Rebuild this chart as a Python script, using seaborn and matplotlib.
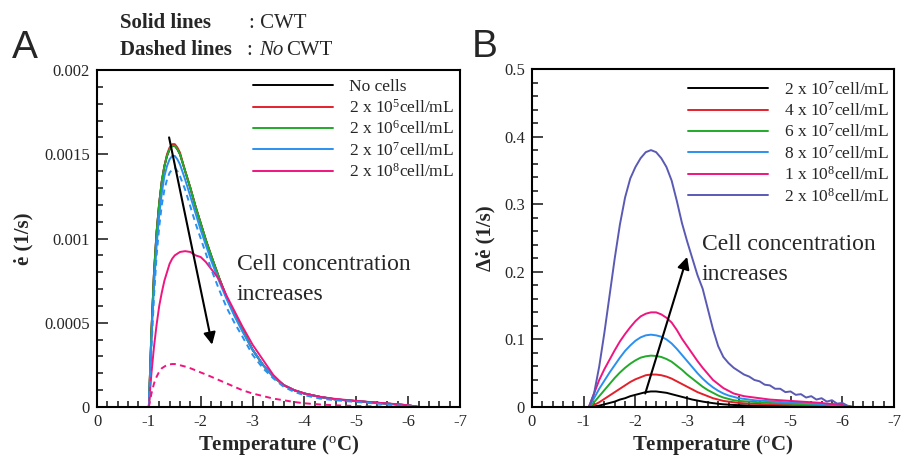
import numpy as np
import pandas as pd
import matplotlib
matplotlib.use("Agg")
import matplotlib.pyplot as plt
from matplotlib.ticker import FixedLocator, MultipleLocator, FuncFormatter
import seaborn as sns

# ====== data ======
# panel A: strain rate vs temperature
temp_a = [-1.0, -1.05, -1.1, -1.15, -1.2, -1.25, -1.3, -1.35, -1.4, -1.45,
          -1.5, -1.55, -1.6, -1.7, -1.8, -1.9, -2.0, -2.1, -2.2, -2.35,
          -2.5, -2.65, -2.8, -3.0, -3.2, -3.4, -3.6, -3.8, -4.0, -4.3,
          -4.6, -5.0, -5.4, -5.8, -6.0, -6.2]

no_cells = [0, 0.00045, 0.0008, 0.00104, 0.00121, 0.00134, 0.00143, 0.00149, 0.00153, 0.00155,
            0.00155, 0.00153, 0.0015, 0.0014, 0.0013, 0.00119, 0.00109, 0.00099, 0.0009, 0.00077,
            0.00065, 0.00055, 0.00046, 0.00034, 0.00025, 0.00018, 0.00013, 0.0001, 0.00008, 0.00006,
            0.000045, 0.000035, 0.000025, 0.000015, 0.00001, 0]
c_2e5 = [0, 0.00045, 0.0008, 0.00104, 0.00121, 0.00134, 0.00143, 0.0015, 0.00154, 0.00156,
         0.00156, 0.00154, 0.00151, 0.0014, 0.0013, 0.00119, 0.00109, 0.00099, 0.0009, 0.00077,
         0.00065, 0.00055, 0.00046, 0.00034, 0.00025, 0.00018, 0.00013, 0.0001, 0.00008, 0.00006,
         0.000045, 0.000035, 0.000025, 0.000015, 0.00001, 0]
c_2e6 = [0, 0.00045, 0.0008, 0.00104, 0.00121, 0.00134, 0.00143, 0.00149, 0.00153, 0.00155,
         0.00155, 0.00153, 0.0015, 0.0014, 0.0013, 0.00119, 0.00109, 0.00099, 0.0009, 0.00077,
         0.00065, 0.00055, 0.00046, 0.00034, 0.00025, 0.00018, 0.00013, 0.0001, 0.00008, 0.00006,
         0.000045, 0.000035, 0.000025, 0.000015, 0.00001, 0]
c_2e7 = [0, 0.0004, 0.00072, 0.00096, 0.00114, 0.00127, 0.00137, 0.00143, 0.00147, 0.00149,
         0.00149, 0.00147, 0.00144, 0.00135, 0.00125, 0.00115, 0.00105, 0.00096, 0.00087, 0.00075,
         0.00064, 0.00054, 0.00045, 0.00034, 0.00025, 0.00018, 0.00013, 0.0001, 0.00008, 0.00006,
         0.000045, 0.000035, 0.000025, 0.000015, 0.00001, 0]
c_2e8 = [0, 0.0002, 0.00036, 0.00049, 0.0006, 0.00068, 0.00075, 0.0008, 0.00085, 0.00088,
         0.0009, 0.00091, 0.00092, 0.000925, 0.00092, 0.0009, 0.00089, 0.00086, 0.00082, 0.00076,
         0.00066, 0.00057, 0.00048, 0.00037, 0.00028, 0.00019, 0.00013, 0.0001, 0.00008, 0.00006,
         0.000048, 0.000036, 0.000026, 0.000016, 0.00001, 0]
# dashed (no CWT)
c_2e7_nocwt = [0, 0.00035, 0.00066, 0.0009, 0.00107, 0.0012, 0.00129, 0.00135, 0.00139, 0.00141,
               0.00142, 0.0014, 0.00137, 0.00129, 0.00119, 0.00109, 0.001, 0.00091, 0.00082, 0.0007,
               0.00059, 0.0005, 0.00042, 0.00031, 0.00023, 0.00017, 0.00012, 0.00009, 0.00007, 0.00005,
               0.00004, 0.00003, 0.00002, 0.00001, 0.000005, 0]
c_2e8_nocwt = [0, 0.00008, 0.00014, 0.00018, 0.00021, 0.00023, 0.00024, 0.00025, 0.000253, 0.000255,
               0.000255, 0.000252, 0.000248, 0.00024, 0.00023, 0.000218, 0.000205, 0.000193, 0.00018, 0.00016,
               0.00014, 0.00012, 0.0001, 0.00008, 0.000065, 0.00005, 0.00004, 0.00003, 0.000022, 0.000015,
               0.00001, 0.000006, 0.000003, 0.000001, 0, 0]

labels_a = ["No cells", "2 x 10$^{5}$cell/mL", "2 x 10$^{6}$cell/mL",
            "2 x 10$^{7}$cell/mL", "2 x 10$^{8}$cell/mL"]
colors_a = ["#000000", "#e3202a", "#22aa2a", "#2a90f0", "#f0147f"]

# panel B: difference in strain rate
temp_b = [-1.1, -1.2, -1.3, -1.4, -1.5, -1.6, -1.7, -1.8, -1.9, -2.0,
          -2.1, -2.2, -2.3, -2.4, -2.5, -2.6, -2.7, -2.8, -2.9, -3.0,
          -3.1, -3.2, -3.3, -3.4, -3.5, -3.6, -3.7, -3.8, -3.9, -4.0,
          -4.1, -4.2, -4.3, -4.4, -4.5, -4.6, -4.7, -4.8, -4.9, -5.0,
          -5.1, -5.2, -5.3, -5.4, -5.5, -5.6, -5.7, -5.8, -5.9, -6.0,
          -6.1, -6.2]

d_2e7 = [0.0, 0.001, 0.002, 0.004, 0.006, 0.008, 0.011, 0.013, 0.016, 0.018,
         0.02, 0.022, 0.023, 0.023, 0.022, 0.021, 0.019, 0.017, 0.015, 0.013,
         0.011, 0.0095, 0.008, 0.0068, 0.0057, 0.0048, 0.004, 0.0035, 0.003, 0.0027,
         0.0025, 0.0023, 0.0021, 0.002, 0.0019, 0.0018, 0.0017, 0.0016, 0.0015, 0.0014,
         0.0013, 0.0012, 0.0011, 0.001, 0.0009, 0.0008, 0.0007, 0.0006, 0.0005, 0.0004,
         0.0002, 0.0]
d_4e7 = [0.0, 0.003, 0.007, 0.012, 0.017, 0.022, 0.027, 0.032, 0.037, 0.041,
         0.044, 0.047, 0.048, 0.048, 0.047, 0.045, 0.042, 0.038, 0.034, 0.03,
         0.026, 0.022, 0.019, 0.016, 0.013, 0.011, 0.009, 0.008, 0.007, 0.006,
         0.0055, 0.005, 0.0047, 0.0044, 0.0041, 0.0038, 0.0036, 0.0034, 0.0032, 0.003,
         0.0028, 0.0026, 0.0024, 0.0022, 0.002, 0.0018, 0.0016, 0.0014, 0.0012, 0.0009,
         0.0005, 0.0]
d_6e7 = [0.0, 0.007, 0.016, 0.025, 0.034, 0.043, 0.051, 0.058, 0.064, 0.069,
         0.073, 0.075, 0.076, 0.0755, 0.074, 0.071, 0.067, 0.061, 0.055, 0.048,
         0.042, 0.036, 0.03, 0.025, 0.021, 0.017, 0.014, 0.012, 0.01, 0.009,
         0.0085, 0.008, 0.0075, 0.007, 0.0065, 0.006, 0.0058, 0.0055, 0.0052, 0.005,
         0.0047, 0.0044, 0.004, 0.0037, 0.0034, 0.003, 0.0027, 0.0023, 0.002, 0.0015,
         0.0008, 0.0]
d_8e7 = [0.0, 0.013, 0.027, 0.039, 0.051, 0.062, 0.073, 0.083, 0.091, 0.098,
         0.103, 0.106, 0.107, 0.106, 0.104, 0.1, 0.094, 0.086, 0.077, 0.068,
         0.059, 0.05, 0.042, 0.035, 0.029, 0.024, 0.02, 0.017, 0.015, 0.013,
         0.012, 0.011, 0.01, 0.0095, 0.009, 0.0085, 0.008, 0.0075, 0.007, 0.0068,
         0.0065, 0.006, 0.0056, 0.0052, 0.0048, 0.0044, 0.004, 0.0035, 0.003, 0.002,
         0.001, 0.0]
d_1e8 = [0.0, 0.02, 0.04, 0.056, 0.07, 0.084, 0.097, 0.108, 0.118, 0.127,
         0.134, 0.138, 0.14, 0.14, 0.137, 0.132, 0.125, 0.114, 0.101, 0.09,
         0.079, 0.068, 0.058, 0.049, 0.04, 0.034, 0.028, 0.024, 0.02, 0.018,
         0.016, 0.015, 0.014, 0.013, 0.012, 0.011, 0.0105, 0.01, 0.0095, 0.009,
         0.0085, 0.008, 0.0075, 0.007, 0.0065, 0.006, 0.005, 0.0045, 0.004, 0.003,
         0.0015, 0.0]
d_2e8 = [0.0, 0.02, 0.06, 0.11, 0.165, 0.22, 0.27, 0.31, 0.338, 0.355,
         0.368, 0.377, 0.38, 0.377, 0.368, 0.355, 0.335, 0.305, 0.272, 0.245,
         0.22, 0.195, 0.175, 0.145, 0.115, 0.09, 0.074, 0.065, 0.058, 0.053,
         0.048, 0.045, 0.04, 0.038, 0.033, 0.032, 0.027, 0.027, 0.022, 0.023,
         0.018, 0.019, 0.014, 0.016, 0.011, 0.013, 0.008, 0.01, 0.005, 0.006,
         0.002, 0.0]

labels_b = ["2 x 10$^{7}$cell/mL", "4 x 10$^{7}$cell/mL", "6 x 10$^{7}$cell/mL",
            "8 x 10$^{7}$cell/mL", "1 x 10$^{8}$cell/mL", "2 x 10$^{8}$cell/mL"]
colors_b = ["#000000", "#e3202a", "#22aa2a", "#2a90f0", "#f0147f", "#5a5ab4"]

# ====== style ======
sns.set_style("ticks")
plt.rcParams["font.family"] = ["Liberation Serif", "DejaVu Serif"]
plt.rcParams["mathtext.fontset"] = "custom"
plt.rcParams["mathtext.rm"] = "Liberation Serif"
plt.rcParams["mathtext.it"] = "Liberation Serif:italic"
plt.rcParams["mathtext.bf"] = "Liberation Serif:bold"
plt.rcParams["axes.unicode_minus"] = False

fig = plt.figure(figsize=(9.01, 4.55), dpi=100)
W, H = 901, 455


def px_axes(x0, y0, x1, y1):
    return fig.add_axes([x0 / W, 1 - y1 / H, (x1 - x0) / W, (y1 - y0) / H])


ax_a = px_axes(97, 70, 460, 407)
ax_b = px_axes(532, 69, 894, 407)

lw = 1.4
# ---- panel A ----
for vals, lab, col in zip([no_cells, c_2e5, c_2e6, c_2e7, c_2e8], labels_a, colors_a):
    sns.lineplot(x=temp_a, y=vals, color=col, lw=lw, label=lab, ax=ax_a, sort=False)
sns.lineplot(x=temp_a, y=c_2e7_nocwt, color=colors_a[3], lw=lw, ax=ax_a, sort=False,
             linestyle=(0, (3, 2.2)))
sns.lineplot(x=temp_a, y=c_2e8_nocwt, color=colors_a[4], lw=lw, ax=ax_a, sort=False,
             linestyle=(0, (3, 2.2)))
ax_a.set_ylim(0, 0.002)
ax_a.yaxis.set_major_locator(FixedLocator([0, 0.0005, 0.001, 0.0015, 0.002]))
ax_a.yaxis.set_minor_locator(MultipleLocator(0.0001))
ax_a.set_ylabel("ė (1/s)", fontsize=15, fontweight="bold", labelpad=8)

# ---- panel B ----
for vals, lab, col in zip([d_2e7, d_4e7, d_6e7, d_8e7, d_1e8, d_2e8], labels_b, colors_b):
    sns.lineplot(x=temp_b, y=vals, color=col, lw=lw, label=lab, ax=ax_b, sort=False)
ax_b.set_ylim(0, 0.5)
ax_b.yaxis.set_major_locator(MultipleLocator(0.1))
ax_b.yaxis.set_minor_locator(MultipleLocator(0.02))
ax_b.set_ylabel("Δė (1/s)", fontsize=15, fontweight="bold", labelpad=6)

fmt = FuncFormatter(lambda v, p: f"{v:g}")
for ax in (ax_a, ax_b):
    ax.set_xlim(0, -7)
    ax.xaxis.set_major_locator(MultipleLocator(1))
    ax.xaxis.set_minor_locator(MultipleLocator(0.2))
    ax.xaxis.set_major_formatter(fmt)
    ax.yaxis.set_major_formatter(fmt)
    ax.tick_params(which="both", direction="in", top=False, right=False, labelsize=12, width=1.2)
    ax.tick_params(which="major", length=8, pad=5)
    ax.tick_params(which="minor", length=4)
    for s in ax.spines.values():
        s.set_linewidth(1.5)
        s.set_color("black")
    ax.set_xlabel("Temperature ($^{\\mathrm{o}}$C)", fontsize=15, fontweight="bold", labelpad=2)

leg_kw = dict(loc="upper left", frameon=False, fontsize=12.5, handlelength=4.6,
              handletextpad=0.9, labelspacing=0.2, borderpad=0, borderaxespad=0)
ax_a.legend(bbox_to_anchor=(0.43, 0.973), **leg_kw)
ax_b.legend(bbox_to_anchor=(0.431, 0.966), **leg_kw)

# arrows and notes
arrow = dict(arrowstyle="-|>", lw=1.5, color="black", mutation_scale=18, shrinkA=0, shrinkB=0)
ax_a.annotate("", xy=(-2.22, 0.00037), xytext=(-1.39, 0.0016), arrowprops=arrow)
ax_b.annotate("", xy=(-3.0, 0.222), xytext=(-2.19, 0.02), arrowprops=arrow)
fig.text(237 / W, 1 - 270 / H, "Cell concentration", fontsize=17, va="baseline")
fig.text(237 / W, 1 - 300 / H, "increases", fontsize=17, va="baseline")
fig.text(702 / W, 1 - 250 / H, "Cell concentration", fontsize=17, va="baseline")
fig.text(702 / W, 1 - 280 / H, "increases", fontsize=17, va="baseline")

# header
fig.text(120 / W, 1 - 28 / H, "Solid lines", fontsize=15, fontweight="bold", va="baseline")
fig.text(249 / W, 1 - 28 / H, ": CWT", fontsize=15, va="baseline")
fig.text(120 / W, 1 - 55 / H, "Dashed lines", fontsize=15, fontweight="bold", va="baseline")
fig.text(246 / W, 1 - 55 / H, ":", fontsize=15, va="baseline")
fig.text(259 / W, 1 - 55 / H, "No", fontsize=15, style="italic", va="baseline")
fig.text(286 / W, 1 - 55 / H, "CWT", fontsize=15, va="baseline")

fig.text(12 / W, 1 - 58 / H, "A", fontsize=28, family="Liberation Sans", va="baseline")
fig.text(472 / W, 1 - 57 / H, "B", fontsize=28, family="Liberation Sans", va="baseline")

fig.savefig("out.png", dpi=100)
